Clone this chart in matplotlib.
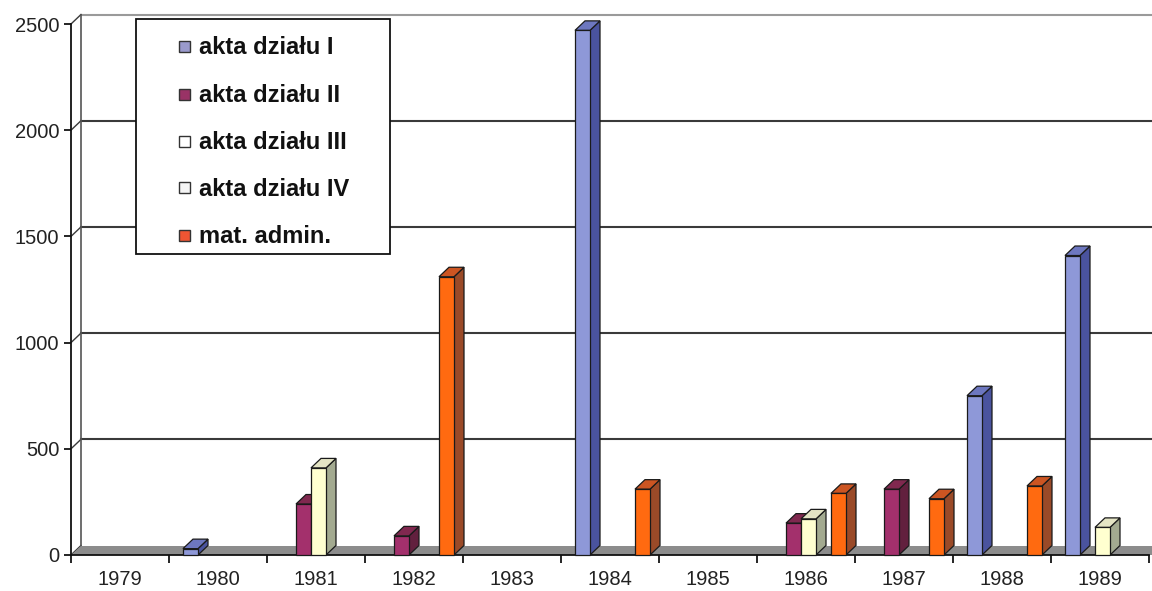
# -*- coding: utf-8 -*-

import matplotlib.pyplot as plt
from matplotlib.patches import Polygon, Rectangle

plt.rcParams['font.family'] = ['Liberation Sans', 'DejaVu Sans']

# lata i wartości serii
years = ['1979', '1980', '1981', '1982', '1983', '1984', '1985', '1986', '1987', '1988', '1989']
akta_I = [0, 30, 0, 0, 0, 2470, 0, 0, 0, 750, 1410]
akta_II = [0, 0, 240, 90, 0, 0, 0, 150, 310, 0, 0]
akta_III = [0, 0, 410, 0, 0, 0, 0, 170, 0, 0, 130]
akta_IV = [0, 0, 0, 0, 0, 0, 0, 0, 0, 0, 0]
mat_admin = [0, 0, 0, 1310, 0, 310, 0, 290, 265, 325, 0]

labels = ['akta działu I', 'akta działu II', 'akta działu III', 'akta działu IV', 'mat. admin.']
series = [akta_I, akta_II, akta_III, akta_IV, mat_admin]

# kolory: przód, bok, góra, legenda
front_c = ['#8e98d8', '#a3306c', '#ffffd0', '#ffffff', '#ff6a10']
side_c = ['#4a539e', '#62203e', '#a3aa90', '#b0b0b0', '#9a4a28']
top_c = ['#6d77bf', '#80284f', '#e4e4c4', '#dddddd', '#cc5522']
legend_c = ['#9a9acc', '#993366', '#ffffff', '#f4f4f4', '#ee5533']

W, H = 1152, 591
fig = plt.figure(figsize=(W / 100, H / 100), dpi=100)
ax = fig.add_axes([71 / W, 36 / H, 1078 / W, 531 / H])
ax.set_xlim(0, len(years))
ax.set_ylim(0, 2500)

#Przeliczenie pikseli na jednostki danych (głębokość 3D)
px_x = len(years) / 1078
px_y = 2500 / 531
DX = 10 * px_x
DY = 9.5 * px_y

bw = 15 * px_x  # szerokość słupka
gap = 14 * px_x  # odstęp od lewej krawędzi kategorii

#Tylna ściana i linie siatki
yt = [0, 500, 1000, 1500, 2000, 2500]
for v in yt[1:]:
    col = '#9a9a9a' if v == 2500 else '#3a3a3a'
    ax.plot([DX, len(years) + 0.2], [v + DY, v + DY], color=col, lw=1.5, clip_on=False, zorder=1)
for v in yt:
    ax.plot([0, DX], [v, v + DY], color='#3a3a3a', lw=1.0, clip_on=False, zorder=1)
ax.plot([DX, DX], [DY, 2500 + DY], color='#555555', lw=1.2, clip_on=False, zorder=1)

#Podłoga
ax.add_patch(Polygon([(0, 0), (len(years) + 0.2, 0), (len(years) + 0.2, DY), (DX, DY)],
                     closed=True, fc='#8c8c8c', ec='none', clip_on=False, zorder=1.5))

#Słupki 3D
xs = list(range(len(years)))
for k, vals in enumerate(series):
    x0 = [i + gap + k * bw for i in xs]
    z = 3 + k
    idx = [i for i in xs if vals[i] > 0]
    ax.bar([x0[i] for i in idx], [vals[i] for i in idx], width=bw, align='edge',
           color=front_c[k], edgecolor='#1a1a1a', lw=0.9, zorder=z + 0.5, clip_on=False)
    for i in idx:
        h = vals[i]
        xl = x0[i]
        xr = xl + bw
        ax.add_patch(Polygon([(xr, 0), (xr + DX, DY), (xr + DX, h + DY), (xr, h)], closed=True,
                             fc=side_c[k], ec='#1a1a1a', lw=0.9, clip_on=False, zorder=z))
        ax.add_patch(Polygon([(xl, h), (xr, h), (xr + DX, h + DY), (xl + DX, h + DY)], closed=True,
                             fc=top_c[k], ec='#1a1a1a', lw=0.9, clip_on=False, zorder=z))

#Osie
for s in ['top', 'right']:
    ax.spines[s].set_visible(False)
ax.spines['left'].set_color('#111111')
ax.spines['bottom'].set_color('#111111')
ax.spines['left'].set_linewidth(1.3)
ax.spines['bottom'].set_linewidth(1.3)
ax.spines['bottom'].set_zorder(2)

ax.set_yticks(yt)
ax.tick_params(axis='y', length=5, width=1.2, pad=3.5, labelsize=14.5, labelcolor='#222222')
ax.set_xticks(range(len(years) + 1))
ax.set_xticklabels([])
ax.set_xticks([i + 0.5 for i in xs], minor=True)
ax.set_xticklabels(years, minor=True)
ax.tick_params(axis='x', which='major', length=6, width=1.2)
ax.tick_params(axis='x', which='minor', length=0, pad=10.5, labelsize=14.5, labelcolor='#222222')

#Legenda rysowana ręcznie
def fx(x):
    return x / W

def fy(y):
    return 1 - y / H

fig.patches.append(Rectangle((fx(136), fy(254)), (390 - 136) / W, (254 - 19) / H,
                             transform=fig.transFigure, fc='white', ec='#111111', lw=1.3, zorder=10))
leg_y = [46, 94, 141, 188, 235]
for k, lab in enumerate(labels):
    fig.patches.append(Rectangle((fx(179), fy(leg_y[k] + 5.5)), 11 / W, 11 / H,
                                 transform=fig.transFigure, fc=legend_c[k], ec='#333333', lw=1.0, zorder=11))
    fig.text(fx(199), fy(leg_y[k] + 8), lab, fontsize=17, fontweight='bold', color='#111111',
             va='baseline', ha='left', zorder=12)

plt.savefig('out.png', dpi=100)
